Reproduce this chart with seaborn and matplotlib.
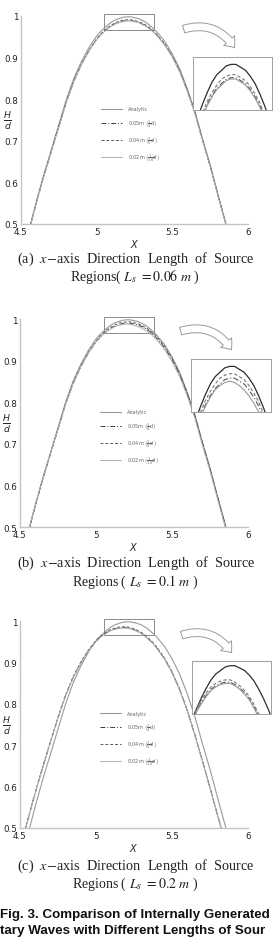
import matplotlib
matplotlib.use('Agg')
import matplotlib.pyplot as plt
import seaborn as sns
from matplotlib.patches import Rectangle, FancyArrowPatch
from matplotlib.ticker import FormatStrFormatter

W, H = 277, 945

# x positions of the read-off points (finer near the crest)
X = [4.50, 4.55, 4.60, 4.65, 4.70, 4.75, 4.80, 4.85, 4.90, 4.95, 5.00,
     5.025, 5.05, 5.075, 5.10, 5.125, 5.15, 5.175, 5.20, 5.225, 5.25,
     5.275, 5.30, 5.325, 5.35, 5.375,
     5.40, 5.45, 5.50, 5.55, 5.60, 5.65, 5.70, 5.75, 5.80, 5.85, 5.90]

analytic = [0.420, 0.481, 0.552, 0.618, 0.678, 0.739, 0.800, 0.851, 0.891, 0.925, 0.952,
            0.962, 0.971, 0.979, 0.986, 0.991, 0.994, 0.997, 0.998, 0.998, 0.996,
            0.994, 0.990, 0.985, 0.978, 0.970,
            0.961, 0.939, 0.909, 0.872, 0.824, 0.770, 0.704, 0.642, 0.573, 0.506, 0.440]

# (a) Ls = 0.06 m
n05_a = [0.419, 0.479, 0.549, 0.614, 0.674, 0.734, 0.794, 0.844, 0.884, 0.917, 0.944,
         0.954, 0.963, 0.971, 0.977, 0.982, 0.985, 0.988, 0.989, 0.989, 0.987,
         0.985, 0.981, 0.976, 0.970, 0.962,
         0.953, 0.931, 0.902, 0.866, 0.819, 0.766, 0.701, 0.639, 0.571, 0.504, 0.439]
n04_a = [0.420, 0.480, 0.550, 0.615, 0.675, 0.735, 0.795, 0.845, 0.885, 0.918, 0.945,
         0.956, 0.965, 0.973, 0.979, 0.984, 0.988, 0.990, 0.991, 0.991, 0.989,
         0.987, 0.983, 0.978, 0.972, 0.964,
         0.955, 0.933, 0.904, 0.868, 0.821, 0.768, 0.702, 0.640, 0.572, 0.505, 0.440]
n02_a = [0.419, 0.479, 0.549, 0.614, 0.673, 0.733, 0.793, 0.843, 0.883, 0.916, 0.943,
         0.953, 0.962, 0.970, 0.976, 0.981, 0.984, 0.987, 0.988, 0.988, 0.986,
         0.984, 0.980, 0.975, 0.969, 0.961,
         0.952, 0.930, 0.901, 0.865, 0.818, 0.765, 0.700, 0.638, 0.570, 0.503, 0.438]

# (b) Ls = 0.1 m
n05_b = [0.419, 0.480, 0.550, 0.615, 0.675, 0.735, 0.795, 0.845, 0.885, 0.918, 0.945,
         0.955, 0.964, 0.972, 0.978, 0.983, 0.986, 0.989, 0.990, 0.990, 0.988,
         0.986, 0.982, 0.977, 0.971, 0.963,
         0.954, 0.932, 0.903, 0.867, 0.820, 0.767, 0.701, 0.639, 0.571, 0.504, 0.439]
n04_b = [0.420, 0.481, 0.551, 0.616, 0.676, 0.736, 0.797, 0.847, 0.887, 0.920, 0.947,
         0.958, 0.967, 0.975, 0.981, 0.986, 0.990, 0.992, 0.993, 0.993, 0.991,
         0.989, 0.985, 0.980, 0.974, 0.966,
         0.957, 0.935, 0.906, 0.869, 0.822, 0.769, 0.703, 0.641, 0.572, 0.505, 0.440]
n02_b = [0.421, 0.482, 0.552, 0.617, 0.676, 0.736, 0.795, 0.845, 0.885, 0.918, 0.945,
         0.955, 0.964, 0.971, 0.977, 0.982, 0.985, 0.987, 0.988, 0.987, 0.985,
         0.982, 0.978, 0.973, 0.967, 0.959,
         0.950, 0.927, 0.898, 0.862, 0.815, 0.762, 0.697, 0.635, 0.567, 0.500, 0.435]

# (c) Ls = 0.2 m
n05_c = [0.450, 0.518, 0.585, 0.647, 0.707, 0.766, 0.820, 0.864, 0.899, 0.928, 0.951,
         0.960, 0.967, 0.973, 0.978, 0.981, 0.983, 0.984, 0.984, 0.982, 0.979,
         0.975, 0.970, 0.963, 0.955, 0.946,
         0.935, 0.909, 0.876, 0.834, 0.784, 0.725, 0.662, 0.597, 0.530, 0.465, 0.400]
n04_c = [0.451, 0.519, 0.586, 0.649, 0.709, 0.768, 0.822, 0.866, 0.901, 0.930, 0.953,
         0.962, 0.969, 0.975, 0.980, 0.983, 0.985, 0.986, 0.986, 0.984, 0.981,
         0.977, 0.972, 0.965, 0.957, 0.948,
         0.937, 0.911, 0.878, 0.836, 0.785, 0.726, 0.663, 0.598, 0.531, 0.466, 0.401]
n02_c = [0.449, 0.517, 0.584, 0.646, 0.706, 0.765, 0.819, 0.863, 0.898, 0.927, 0.950,
         0.959, 0.966, 0.972, 0.977, 0.980, 0.982, 0.983, 0.983, 0.981, 0.978,
         0.974, 0.969, 0.962, 0.954, 0.945,
         0.934, 0.908, 0.875, 0.833, 0.783, 0.724, 0.661, 0.596, 0.529, 0.464, 0.399]

labels = ['Analytic',
          r'0.05m $\left(\frac{1}{4}d\right)$',
          r'0.04m $\left(\frac{1}{5}d\right)$',
          r'0.02m $\left(\frac{1}{10}d\right)$']

captions = [(r'(a)  $x$$-$axis  Direction  Length  of  Source', r'Regions( $L_s$ $= 0.06\ m$ )'),
            (r'(b)  $x$$-$axis  Direction  Length  of  Source', r'Regions ( $L_s$ $= 0.1\ m$ )'),
            (r'(c)  $x$$-$axis  Direction  Length  of  Source', r'Regions ( $L_s$ $= 0.2\ m$ )')]

panels = [(n05_a, n04_a, n02_a), (n05_b, n04_b, n02_b), (n05_c, n04_c, n02_c)]

# pixel boxes: main axes, inset, zoom rectangle, arrow, caption rows
ax_px = [(21, 17, 248, 225), (20, 320, 248, 528), (20, 622, 248, 829)]
inset_px = [(193, 58, 272, 111), (191, 360, 271, 413), (192, 662, 271, 715)]
inset_ylim = [(0.967, 1.003), (0.967, 1.003), (0.957, 1.002)]
arrow_px = [((181, 31), (236, 51)), ((178, 333), (233, 353)), ((179, 637), (233, 656))]
cap_y = [(259, 277), (563, 582), (866, 884)]

sns.set_style('white')
plt.rcParams['font.family'] = ['DejaVu Sans']
plt.rcParams['mathtext.fontset'] = 'dejavusans'

fig = plt.figure(figsize=(W / 100, H / 100), dpi=100)


def px(x0, y0, x1, y1):
    return [x0 / W, 1 - y1 / H, (x1 - x0) / W, (y1 - y0) / H]


styles = [dict(color='#9a9a9a', linestyle='-', lw=0.8),
          dict(color='#3c3c3c', linestyle=(0, (5, 2, 1, 2)), lw=0.7),
          dict(color='#5c5c5c', linestyle=(0, (3, 2)), lw=0.7),
          dict(color='#b0b0b0', linestyle='-', lw=0.7)]

inset_styles = [dict(color='#2e2e2e', linestyle='-', lw=0.9),
                dict(color='#555555', linestyle=(0, (5, 2, 1, 2)), lw=0.8),
                dict(color='#777777', linestyle=(0, (3, 2)), lw=0.8),
                dict(color='#999999', linestyle='-', lw=0.8)]

for i, (n05, n04, n02) in enumerate(panels):
    series = [analytic, n05, n04, n02]

    ax = fig.add_axes(px(*ax_px[i]))
    for ys, st, lab in zip(series, styles, labels):
        sns.lineplot(x=X, y=ys, ax=ax, label=lab, **st)
    ax.set_xlim(4.5, 6)
    ax.set_ylim(0.5, 1)
    ax.set_xticks([4.5, 5, 5.5, 6])
    ax.set_yticks([0.5, 0.6, 0.7, 0.8, 0.9, 1.0])
    ax.xaxis.set_major_formatter(FormatStrFormatter('%g'))
    ax.yaxis.set_major_formatter(FormatStrFormatter('%g'))
    ax.tick_params(labelsize=6.3, length=2, width=0.5, direction='in',
                   colors='#aaaaaa', labelcolor='#222222', pad=2)
    sns.despine(ax=ax)
    for s in ['left', 'bottom']:
        ax.spines[s].set_color('#c4c4c4')
        ax.spines[s].set_linewidth(1.0)
    ax.set_xlabel(r'$X$', fontsize=7, labelpad=1)
    ax.set_ylabel(r'$\frac{H}{d}$', fontsize=9.5, rotation=0, va='center', ha='center')
    ax.yaxis.set_label_coords(-0.06, 0.5)
    leg = ax.legend(loc='center', bbox_to_anchor=(0.48, 0.43), frameon=False,
                    fontsize=3.6, handlelength=4.2, labelspacing=1.1, handletextpad=1.2)
    for t in leg.get_texts():
        t.set_color('#666666')

    # box around the crest
    ax.add_patch(Rectangle((5.05, 0.967), 0.33, 0.038, fill=False, ec='#8a8a8a',
                           lw=0.7, clip_on=False))

    # zoomed view of the crest
    ins = fig.add_axes(px(*inset_px[i]))
    for ys, st in zip(series, inset_styles):
        sns.lineplot(x=X, y=ys, ax=ins, **st)
    ins.set_xlim(5.0, 5.414)
    ins.set_ylim(*inset_ylim[i])
    ins.set_xticks([])
    ins.set_yticks([])
    for s in ins.spines.values():
        s.set_color('#a0a0a0')
        s.set_linewidth(0.7)

    # curved hollow arrow
    (ax0, ay0), (ax1, ay1) = arrow_px[i]
    arr = FancyArrowPatch((ax0 / W, 1 - ay0 / H), (ax1 / W, 1 - ay1 / H),
                          transform=fig.transFigure,
                          connectionstyle='arc3,rad=-0.4',
                          arrowstyle='simple,head_width=1.5,head_length=0.9,tail_width=0.8',
                          mutation_scale=7, fc='white', ec='#9a9a9a', lw=0.7)
    fig.patches.append(arr)

    l1, l2 = captions[i]
    y1, y2 = cap_y[i]
    fig.text(136 / W, 1 - y1 / H, l1, ha='center', va='center', fontsize=10.3,
             family='Liberation Serif', math_fontfamily='stix', color='#222222')
    fig.text(135 / W, 1 - y2 / H, l2, ha='center', va='center', fontsize=10,
             family='Liberation Serif', math_fontfamily='stix', color='#222222')

fig.text(0 / W, 1 - 915 / H, 'Fig. 3. Comparison of Internally Generated', ha='left',
         va='center', fontsize=9.6, family='Liberation Sans', fontweight='bold', color='#111111')
fig.text(0 / W, 1 - 931 / H, 'tary Waves with Different Lengths of Sour', ha='left',
         va='center', fontsize=9.6, family='Liberation Sans', fontweight='bold', color='#111111')

fig.savefig('out.png', dpi=100)
